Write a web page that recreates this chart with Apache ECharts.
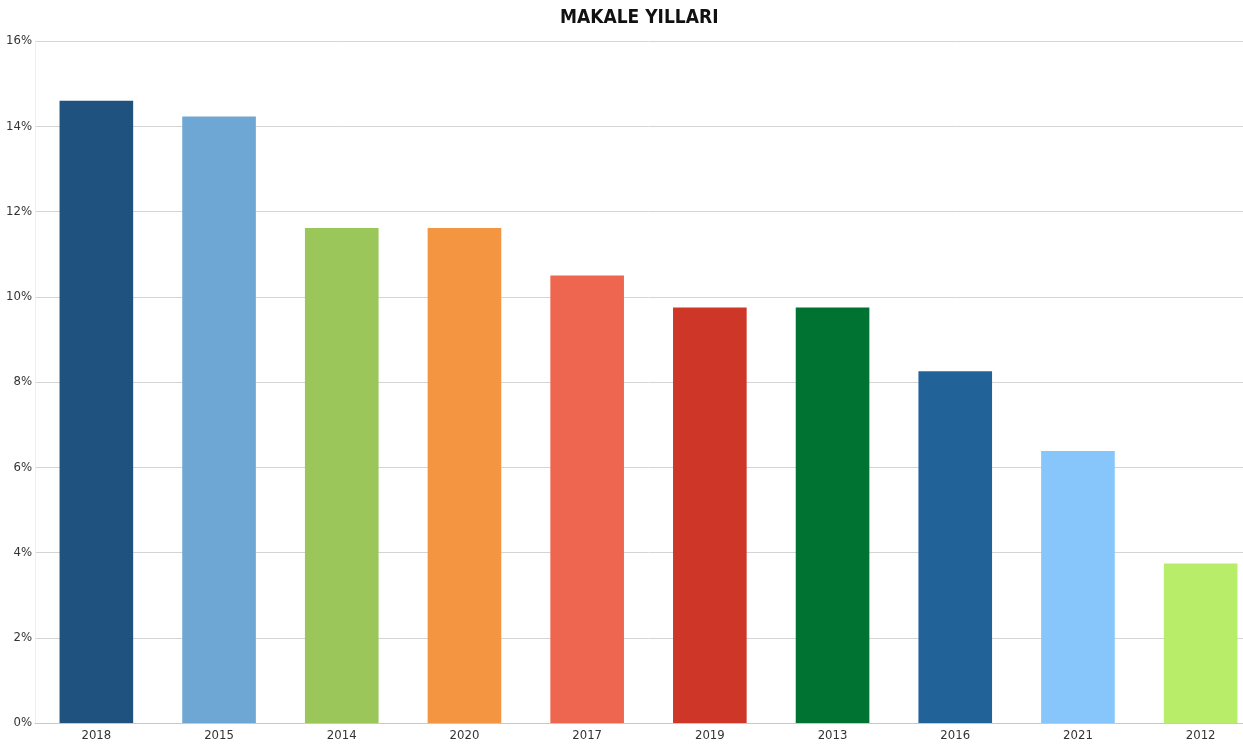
<!DOCTYPE html>
<html>
<head>
<meta charset="utf-8">
<script src="https://cdn.jsdelivr.net/npm/echarts@6/dist/echarts.min.js"></script>
<style>
  html, body { margin: 0; padding: 0; background: #fff; overflow: hidden; }
  #chart { width: 1262px; height: 747px; }
</style>
</head>
<body>
<div id="chart"></div>
<script>
// yıllar (soldan sağa)
var years = ['2018', '2015', '2014', '2020', '2017', '2019', '2013', '2016', '2021', '2012'];
// yüzde değerleri
var percents = [14.6, 14.23, 11.61, 11.61, 10.5, 9.75, 9.75, 8.25, 6.38, 3.74];
var barColors = ['#1f527e', '#6fa7d4', '#9bc65a', '#f39541', '#ee6650',
                 '#ce3628', '#007332', '#216399', '#86c6fa', '#b8ed6a'];
var yTicks = [0, 2, 4, 6, 8, 10, 12, 14, 16];

var font = '"DejaVu Sans Condensed", "Open Sans", sans-serif';
var chart = echarts.init(document.getElementById('chart'));

var option = {
    animation: false,
    title: {
        text: 'MAKALE YILLARI',
        left: 555,
        top: 4,
        textStyle: { fontFamily: font, fontWeight: 'bold', fontSize: 19, color: '#111' }
    },
    // çizim alanı pencerenin sağından biraz taşıyor
    grid: { left: 35, right: 0, top: 41, bottom: 24 },
    xAxis: {
        type: 'category',
        data: years,
        axisTick: { show: false },
        axisLine: { lineStyle: { color: '#c8c8c8' } },
        axisLabel: { fontFamily: font, fontSize: 13, color: '#333', margin: 6 }
    },
    yAxis: {
        type: 'value',
        min: yTicks[0],
        max: yTicks[yTicks.length - 1],
        interval: 2,
        axisLine: { show: true, lineStyle: { color: '#eeeeee' } },
        splitLine: { lineStyle: { color: '#d4d4d4' } },
        axisLabel: { fontFamily: font, fontSize: 13, color: '#333', margin: 3, formatter: '{value}%' }
    },
    series: [{
        type: 'bar',
        barCategoryGap: '40%',
        data: percents.map(function (v, i) {
            return { value: v, itemStyle: { color: barColors[i] } };
        })
    }]
};

chart.setOption(option);
</script>
</body>
</html>
